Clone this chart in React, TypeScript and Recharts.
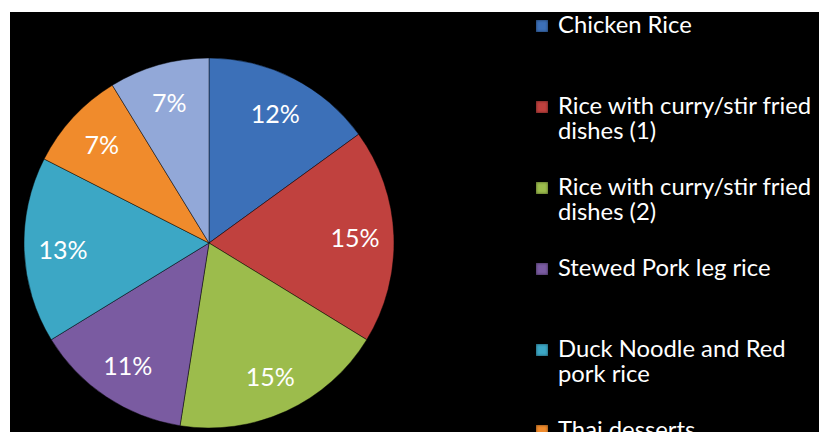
import { PieChart, Pie, Cell } from "recharts";

// slices, clockwise from 12 o'clock
const DISHES = [
  "Chicken Rice",
  "Rice with curry/stir fried dishes (1)",
  "Rice with curry/stir fried dishes (2)",
  "Stewed Pork leg rice",
  "Duck Noodle and Red pork rice",
  "Thai desserts",
  "Others",
];
const SHARES = [12, 15, 15, 11, 13, 7, 7];
const COLORS = ["#3C70B8", "#C0413E", "#9CBC4C", "#7A5BA1", "#3CA7C5", "#F08B2C", "#92A8D8"];

const data = DISHES.map((name, i) => ({ name, value: SHARES[i] }));

const FONT = "Lato, 'Open Sans', sans-serif";
const RADIAN = Math.PI / 180;

const renderLabel = (props: any) => {
  const { cx, cy, midAngle, outerRadius, value } = props;
  const r = outerRadius * 0.79;
  const x = cx + r * Math.cos(-midAngle * RADIAN);
  const y = cy + r * Math.sin(-midAngle * RADIAN);
  return (
    <text
      x={x}
      y={y}
      fill="#fff"
      textAnchor="middle"
      dominantBaseline="central"
      fontSize={25}
      fontFamily={FONT}
    >
      {`${value}%`}
    </text>
  );
};

// legend drawn as html next to the svg, same order as the slices
function DishLegend() {
  return (
    <div
      style={{
        position: "absolute",
        left: 536,
        top: 12,
        width: 283,
        fontFamily: FONT,
        color: "#fff",
        fontSize: 23.8,
      }}
    >
      {DISHES.map((name, i) => (
        <div
          key={`leg-${i}`}
          style={{ position: "absolute", top: i * 81, left: 0, width: 290, display: "flex" }}
        >
          <div
            style={{
              width: 12,
              height: 12,
              marginTop: 8,
              flex: "0 0 12px",
              background: COLORS[i],
              boxShadow: "inset 0 0 3px rgba(0,0,0,0.6)",
            }}
          />
          <div style={{ marginLeft: 10, lineHeight: "25px", width: 265 }}>{name}</div>
        </div>
      ))}
    </div>
  );
}

export default function App() {
  return (
    <div
      style={{
        position: "fixed",
        left: 0,
        top: 0,
        width: 819,
        height: 432,
        background: "#fff",
        overflow: "hidden",
      }}
    >
      <div
        style={{ position: "absolute", left: 10, top: 12, right: 0, bottom: 0, background: "#000" }}
      />
      <div style={{ position: "absolute", left: 0, top: 0 }}>
        <PieChart width={819} height={432}>
          <Pie
            data={data}
            dataKey="value"
            nameKey="name"
            cx={204}
            cy={238}
            outerRadius={185}
            startAngle={90}
            endAngle={-270}
            stroke="rgba(0,0,0,0.45)"
            strokeWidth={1}
            label={renderLabel}
            labelLine={false}
            isAnimationActive={false}
          >
            {data.map((entry, index) => (
              <Cell key={`cell-${index}`} fill={COLORS[index % COLORS.length]} />
            ))}
          </Pie>
        </PieChart>
      </div>
      <DishLegend />
    </div>
  );
}
